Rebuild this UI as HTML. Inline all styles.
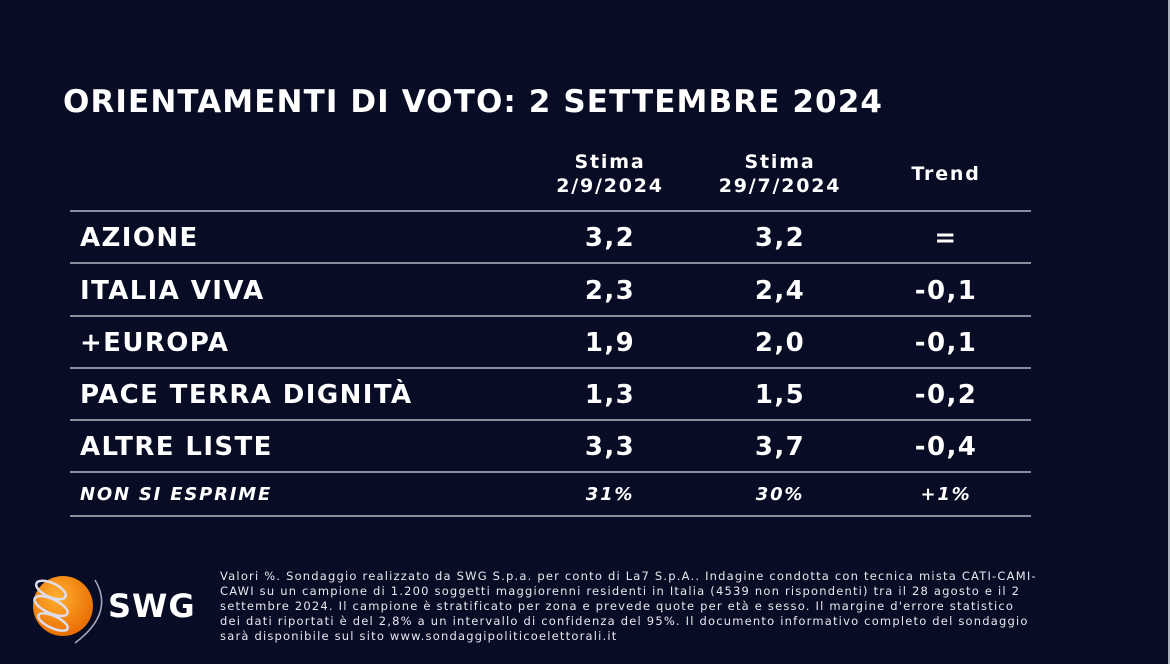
<!DOCTYPE html>
<html><head><meta charset="utf-8"><style>
body{margin:0;width:1170px;height:664px;background:#080c24;position:relative;overflow:hidden;font-family:"DejaVu Sans","Liberation Sans",sans-serif;color:#fff;font-weight:bold}
.a{position:absolute;white-space:nowrap}
.t{left:63px;top:84px;font-size:31px;letter-spacing:1.1px}
.h{font-size:19px;text-align:center;width:160px;line-height:24px;letter-spacing:1.8px}
.line{position:absolute;left:70px;width:961px;height:2px;background:#8a8d9c}
.r{font-size:26px;letter-spacing:1.4px}
.c{text-align:center;width:160px}
.i{font-style:italic;font-size:18px;letter-spacing:1.8px}
.f{left:220px;top:569px;font-size:11.5px;line-height:15px;font-weight:normal;color:#e8e8ee;width:818px;white-space:normal;letter-spacing:1.2px}
</style></head><body>
<div style="position:absolute;right:0;top:0;width:2px;height:664px;background:#aab0bc"></div>
<div class="a t">ORIENTAMENTI DI VOTO: 2 SETTEMBRE 2024</div>
<div class="a h" style="left:530px;top:150px">Stima<br>2/9/2024</div>
<div class="a h" style="left:700px;top:150px">Stima<br>29/7/2024</div>
<div class="a h" style="left:866px;top:162px">Trend</div>
<div class="line" style="top:210px"></div>
<div class="line" style="top:262px"></div>
<div class="line" style="top:315px"></div>
<div class="line" style="top:367px"></div>
<div class="line" style="top:419px"></div>
<div class="line" style="top:471px"></div>
<div class="line" style="top:515px"></div>

<div class="a r" style="left:80px;top:223px">AZIONE</div>
<div class="a r c" style="left:530px;top:223px">3,2</div>
<div class="a r c" style="left:700px;top:223px">3,2</div>
<div class="a r c" style="left:866px;top:223px">=</div>

<div class="a r" style="left:80px;top:276px">ITALIA VIVA</div>
<div class="a r c" style="left:530px;top:276px">2,3</div>
<div class="a r c" style="left:700px;top:276px">2,4</div>
<div class="a r c" style="left:866px;top:276px">-0,1</div>

<div class="a r" style="left:80px;top:328px">+EUROPA</div>
<div class="a r c" style="left:530px;top:328px">1,9</div>
<div class="a r c" style="left:700px;top:328px">2,0</div>
<div class="a r c" style="left:866px;top:328px">-0,1</div>

<div class="a r" style="left:80px;top:380px">PACE TERRA DIGNITÀ</div>
<div class="a r c" style="left:530px;top:380px">1,3</div>
<div class="a r c" style="left:700px;top:380px">1,5</div>
<div class="a r c" style="left:866px;top:380px">-0,2</div>

<div class="a r" style="left:80px;top:432px">ALTRE LISTE</div>
<div class="a r c" style="left:530px;top:432px">3,3</div>
<div class="a r c" style="left:700px;top:432px">3,7</div>
<div class="a r c" style="left:866px;top:432px">-0,4</div>

<div class="a i" style="left:80px;top:484px">NON SI ESPRIME</div>
<div class="a i c" style="left:530px;top:484px">31%</div>
<div class="a i c" style="left:700px;top:484px">30%</div>
<div class="a i c" style="left:866px;top:484px">+1%</div>

<svg class="a" style="left:15px;top:568px" width="95" height="78" viewBox="0 0 95 78">
<defs><radialGradient id="g" cx="0.4" cy="0.35" r="0.7"><stop offset="0" stop-color="#ffb030"/><stop offset="1" stop-color="#e86a00"/></radialGradient></defs>
<circle cx="48" cy="38" r="30" fill="url(#g)"/>
<g fill="none" stroke="#dde" stroke-width="2.5">
<ellipse cx="36" cy="22" rx="16" ry="7" transform="rotate(25 36 22)"/>
<ellipse cx="36" cy="38" rx="18" ry="7" transform="rotate(25 36 38)"/>
<ellipse cx="38" cy="54" rx="16" ry="6" transform="rotate(25 38 54)"/>
</g>
<path d="M80 12 Q100 45 60 75" stroke="#aab" stroke-width="1.5" fill="none"/>
</svg>
<div class="a" style="left:108px;top:587px;font-size:32px;letter-spacing:1px">SWG</div>

<div class="a f">Valori %. Sondaggio realizzato da SWG S.p.a. per conto di La7 S.p.A.. Indagine condotta con tecnica mista CATI-CAMI-CAWI su un campione di 1.200 soggetti maggiorenni residenti in Italia (4539 non rispondenti) tra il 28 agosto e il 2 settembre 2024. Il campione è stratificato per zona e prevede quote per età e sesso. Il margine d'errore statistico dei dati riportati è del 2,8% a un intervallo di confidenza del 95%. Il documento informativo completo del sondaggio sarà disponibile sul sito www.sondaggipoliticoelettorali.it</div>
</body></html>
